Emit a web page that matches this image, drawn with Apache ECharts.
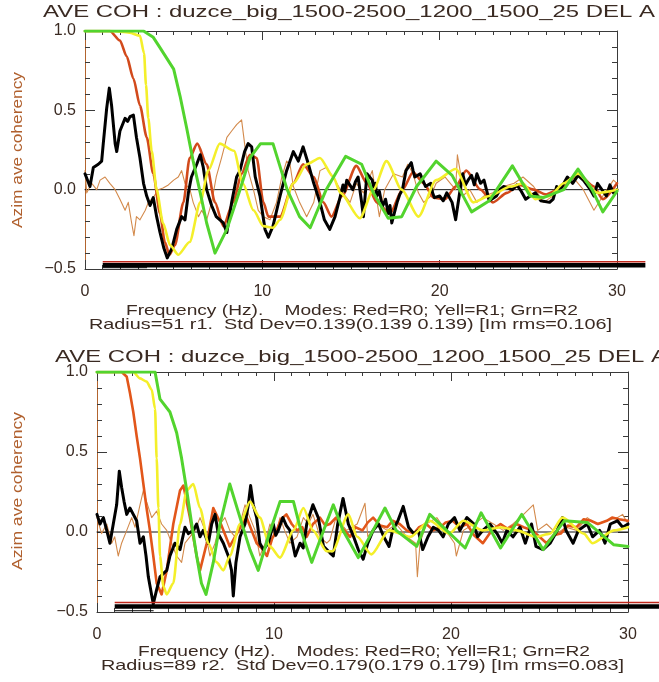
<!DOCTYPE html>
<html>
<head>
<meta charset="utf-8">
<script src="https://cdn.jsdelivr.net/npm/echarts/dist/echarts.min.js"></script>
<style>
html,body{margin:0;padding:0;background:#ffffff;}
#chart{width:659px;height:682px;}
</style>
</head>
<body>
<div id="chart"></div>
<script>
// ---- Panel 1 (Radius=51 r1): [frequency Hz, coherency] ----
const p1Black = [[0,0.1],[0.28,0.02],[0.47,0.14],[0.75,0.16],[0.94,0.18],[1.03,0.29],[1.22,0.51],[1.37,0.64],[1.5,0.53],[1.7,0.29],[1.79,0.24],[1.97,0.37],[2.26,0.45],[2.4,0.43],[2.54,0.46],[2.73,0.47],[2.9,0.33],[3.1,0.2],[3.3,0.04],[3.48,-0.04],[3.67,-0.1],[3.85,-0.05],[4.04,-0.17],[4.23,-0.27],[4.45,-0.37],[4.64,-0.43],[4.9,-0.37],[5.17,-0.25],[5.45,-0.17],[5.64,-0.19],[5.83,-0.02],[6.0,0.08],[6.3,0.16],[6.5,0.22],[6.67,0.14],[6.86,0],[7.14,-0.1],[7.4,-0.17],[7.8,-0.21],[8.0,-0.27],[8.27,-0.08],[8.55,0.08],[8.74,0.12],[9.0,0.24],[9.2,0.29],[9.4,0.27],[9.6,0.08],[9.87,-0.04],[10.15,-0.25],[10.34,-0.3],[10.6,-0.23],[11.0,-0.04],[11.37,0.12],[11.75,0.24],[12.03,0.18],[12.3,0.27],[12.6,0.16],[12.9,0.04],[13.25,-0.08],[13.5,-0.19],[13.8,-0.25],[14.1,-0.17],[14.4,-0.04],[14.55,0.03],[14.65,-0.01],[14.76,0.06],[15.1,0],[15.25,0.05],[15.4,0.08],[15.6,-0.08],[15.7,-0.17],[15.9,0.1],[16.2,0.06],[16.3,0],[16.38,0.04],[16.45,-0.04],[16.6,-0.01],[16.7,-0.07],[16.8,-0.1],[16.95,-0.06],[17.1,-0.15],[17.2,-0.1],[17.3,-0.21],[17.6,-0.08],[17.75,-0.03],[17.9,0],[18.1,0.12],[18.4,0.17],[18.5,0.12],[18.6,0.08],[18.9,0.1],[19.05,0.06],[19.2,0.02],[19.5,0.04],[19.6,-0.02],[19.7,-0.05],[20.0,-0.04],[20.2,-0.07],[20.4,-0.02],[20.7,-0.08],[20.9,-0.19],[21.1,-0.04],[21.3,0.1],[21.45,0.03],[21.6,0.06],[21.8,0.09],[21.95,0.03],[22.1,0.1],[22.3,0.04],[22.5,0.06],[22.8,-0.07],[23.2,-0.04],[23.4,0],[23.6,0.02],[24.1,0],[24.35,0.03],[24.6,-0.01],[24.85,-0.06],[25.1,-0.04],[25.4,-0.02],[25.7,-0.07],[26.2,-0.08],[26.4,-0.06],[26.6,0.02],[26.8,0],[27.2,0.08],[27.5,0.04],[27.8,0.09],[28.1,0.06],[28.5,0],[28.7,-0.04],[28.9,0.04],[29.4,-0.04],[29.6,0.03],[29.8,-0.02],[30,0]];
const p1Tan = [[0,0.12],[0.1,-0.02],[0.38,0.04],[0.66,0],[0.85,0.06],[1.13,0.08],[1.4,0.04],[1.7,0],[1.97,-0.06],[2.26,-0.13],[2.44,-0.08],[2.63,-0.21],[2.76,-0.29],[2.9,-0.17],[3.1,-0.19],[3.4,-0.13],[3.57,-0.08],[3.85,-0.05],[4.13,0],[4.4,0.01],[4.7,0.03],[5.0,0.06],[5.26,0.08],[5.45,0.12],[5.64,0.04],[5.92,0],[6.1,-0.08],[6.4,-0.17],[6.58,-0.13],[6.86,-0.19],[7.14,-0.08],[7.4,0.08],[7.7,0.2],[8.0,0.33],[8.27,0.37],[8.55,0.41],[8.83,0.44],[9.0,0.29],[9.2,0.12],[9.5,0],[9.77,-0.13],[10.06,-0.17],[10.43,-0.19],[10.8,-0.08],[11.1,0.08],[11.37,0.18],[11.56,0.16],[11.75,0.02],[12.1,-0.08],[12.5,-0.17],[12.9,-0.08],[13.25,0.12],[13.6,0.14],[14.0,0.08],[14.4,0],[14.95,-0.08],[15.3,0.04],[15.7,-0.02],[16.2,0.12],[16.6,-0.17],[16.9,0],[17.4,0.1],[17.9,0.08],[18.2,0.16],[18.5,0.1],[18.8,-0.02],[19.1,-0.08],[19.5,-0.04],[19.8,0.04],[20.3,0.08],[20.6,0.04],[20.9,0],[21.0,0.22],[21.15,0.12],[21.3,-0.04],[21.7,0],[22.1,-0.08],[22.5,-0.04],[23.0,-0.02],[23.6,0.02],[24.2,0.04],[24.7,0.08],[25.3,0.02],[25.85,-0.08],[26.4,-0.04],[27,0.04],[27.5,0.08],[28.1,0],[28.7,-0.13],[29.2,-0.04],[29.8,0.06],[30,0.04]];
const p1R0 = [[0,1],[1.4,1],[1.97,0.94],[2.35,0.84],[2.73,0.7],[3.1,0.53],[3.48,0.33],[3.85,0.1],[4.23,-0.15],[4.5,-0.33],[4.76,-0.41],[5.07,-0.35],[5.55,-0.08],[5.9,0.2],[6.33,0.29],[6.86,0.16],[7.33,-0.08],[7.8,-0.23],[8.36,-0.08],[8.83,0.1],[9.3,0.22],[9.68,0.2],[10.06,-0.08],[10.34,-0.17],[11.0,-0.17],[11.75,0.04],[12.3,0.16],[12.9,0.08],[13.44,-0.08],[13.9,-0.17],[14.5,-0.04],[15.3,0.15],[15.9,0.04],[16.45,-0.08],[17.2,-0.15],[17.9,0],[18.5,0.11],[19.1,0.04],[19.65,-0.05],[20.3,-0.06],[20.9,0.02],[21.5,0.12],[22.3,0],[23.0,-0.08],[23.8,-0.02],[24.5,0.03],[25.3,0],[26.0,-0.03],[27,0.02],[27.8,0.1],[28.7,0.02],[29.2,-0.06],[30,0.04]];
const p1R1 = [[0,1],[1.5,1],[2.5,0.99],[3.1,0.97],[3.33,0.86],[3.44,0.66],[3.57,0.45],[3.76,0.245],[4.04,0],[4.4,-0.21],[4.8,-0.35],[5.26,-0.41],[5.9,-0.33],[6.5,-0.08],[6.95,0.12],[7.6,0.29],[8.4,0.245],[8.9,0.04],[9.5,-0.13],[10.06,-0.23],[10.6,-0.24],[11.0,-0.19],[11.75,0.04],[12.5,0.16],[13.25,0.2],[14.0,0.08],[14.4,-0.02],[15.5,-0.18],[16.26,0],[17.0,0.18],[17.86,0],[18.8,-0.17],[19.8,0.06],[20.9,0.13],[21.9,-0.08],[22.8,-0.04],[24.0,0.02],[24.7,0.04],[25.4,-0.06],[26.2,-0.04],[27,0.04],[27.8,0.1],[28.9,-0.02],[30,0]];
const p1R2 = [[0,1],[3.3,1],[3.85,0.96],[4.2,0.9],[5.0,0.76],[5.36,0.59],[5.73,0.39],[6.1,0.18],[6.5,-0.02],[6.86,-0.21],[7.33,-0.4],[8.0,-0.25],[8.74,0],[9.3,0.2],[9.9,0.29],[10.6,0.29],[11.4,0],[12.1,-0.17],[12.7,-0.24],[13.6,0],[14.7,0.21],[15.6,0.16],[16.26,-0.02],[17.1,-0.18],[17.86,-0.17],[18.7,0.02],[19.8,0.18],[20.7,0.09],[21.8,-0.14],[22.8,-0.07],[24.1,0.15],[25.1,-0.04],[25.85,-0.05],[27,0],[27.8,0.13],[28.6,0],[29.2,-0.14],[30,-0.01]];
const p1Band = [[1,-0.477],[31.6,-0.477]];
const p1BandEdge = [[1,-0.455],[31.6,-0.455]];
const p1Bracket = [[1,-0.492],[3.5,-0.492]];

// ---- Panel 2 (Radius=89 r2) ----
const p2Black = [[0,0.11],[0.17,0.05],[0.36,0.09],[0.55,0.01],[0.73,-0.07],[0.92,0.05],[1.11,0.17],[1.26,0.38],[1.39,0.28],[1.53,0.19],[1.68,0.11],[1.86,0.15],[2.05,0.11],[2.24,0.07],[2.43,-0.07],[2.62,-0.03],[2.77,-0.15],[2.9,-0.28],[3.03,-0.36],[3.18,-0.45],[3.37,-0.36],[3.56,-0.28],[3.75,-0.26],[3.94,-0.24],[4.12,-0.15],[4.4,-0.07],[4.69,-0.11],[4.97,0.03],[5.16,-0.01],[5.44,0.01],[5.63,0.05],[5.82,-0.03],[6.0,0.01],[6.29,-0.07],[6.48,0.05],[6.67,0.11],[6.85,-0.01],[7.14,-0.07],[7.42,-0.15],[7.6,-0.24],[7.7,-0.4],[7.85,-0.19],[8.08,-0.03],[8.36,0.05],[8.55,0.17],[8.68,0.29],[8.83,0.17],[9.02,0.09],[9.2,-0.07],[9.4,-0.11],[9.68,-0.07],[9.96,0.05],[10.1,-0.02],[10.24,0.01],[10.5,0.09],[10.7,0.04],[10.9,0.01],[11.2,-0.15],[11.47,-0.07],[11.65,-0.1],[11.85,0.05],[12.2,0.17],[12.5,0.09],[12.8,-0.09],[13.16,-0.13],[13.35,-0.15],[13.6,0.05],[13.9,0.21],[14.2,0.05],[14.5,-0.03],[14.76,-0.11],[15.04,-0.17],[15.3,-0.07],[15.6,0.01],[15.9,0.05],[16.2,-0.03],[16.5,-0.09],[16.7,0.01],[17.0,0.07],[17.3,0.16],[17.6,0.03],[17.9,-0.01],[18.15,0.01],[18.4,-0.11],[18.7,-0.03],[19.0,0.03],[19.3,0.01],[19.56,-0.03],[19.85,0.05],[20.2,0.09],[20.5,0.01],[20.9,0.09],[21.3,0.05],[21.5,-0.03],[21.8,0.01],[22.2,0.05],[22.6,-0.01],[22.9,-0.07],[23.15,0.01],[23.5,-0.03],[23.9,0.03],[24.2,-0.07],[24.55,0.05],[24.8,-0.09],[25.2,-0.11],[25.6,-0.07],[26.0,0.01],[26.3,0.09],[26.5,0.01],[26.9,-0.07],[27.2,0.01],[27.7,0.05],[28.0,-0.03],[28.4,0.01],[28.7,-0.07],[29.0,0.05],[29.4,0.07],[29.7,0.03],[30,0.05]];
const p2Tan = [[0,0.09],[0.26,-0.01],[0.55,0.05],[0.83,-0.07],[1.0,-0.03],[1.2,-0.15],[1.39,-0.07],[1.68,0.01],[1.96,0.09],[2.15,0.03],[2.43,0.17],[2.62,0.26],[2.8,0.19],[3.09,0.09],[3.37,0.13],[3.65,0.05],[3.94,0.01],[4.22,-0.07],[4.5,-0.15],[4.78,-0.19],[4.97,-0.07],[5.25,-0.03],[5.54,0.01],[5.82,0.09],[6.1,0.01],[6.38,-0.15],[6.67,-0.07],[6.95,0.05],[7.23,0.09],[7.5,0.01],[7.8,-0.03],[8.08,0.05],[8.36,0.17],[8.64,0.09],[8.93,0.01],[9.2,-0.15],[9.5,-0.07],[9.77,0.05],[10.06,-0.03],[10.34,0.09],[10.6,0.01],[10.9,-0.07],[11.3,-0.03],[11.66,0.09],[11.94,0.05],[12.2,0.11],[12.6,-0.03],[12.98,-0.07],[13.16,-0.05],[13.5,0.09],[14.1,0.01],[14.7,0.05],[15.14,0.18],[15.3,-0.03],[15.8,0.05],[16.4,0.01],[16.9,0.05],[17.5,-0.03],[18.0,-0.07],[18.1,-0.28],[18.25,-0.07],[18.6,0.05],[19.2,0.09],[19.7,0.01],[20.2,-0.07],[20.3,-0.15],[20.7,0.01],[21.3,0.05],[21.8,0.09],[22.4,0.05],[22.95,0.01],[23.5,0.05],[24.1,0.11],[24.65,0.17],[24.9,0.01],[25.4,0.05],[25.96,-0.01],[26.5,0.03],[27.1,0.01],[27.7,0.09],[28.2,0.05],[28.8,0.07],[29.4,0.09],[29.7,0.11],[30,0.05]];
const p2R0 = [[0,1],[1.4,1],[1.68,0.97],[1.86,0.87],[2.05,0.75],[2.24,0.6],[2.43,0.46],[2.62,0.3],[2.8,0.15],[2.99,0.01],[3.18,-0.15],[3.37,-0.32],[3.65,-0.39],[3.94,-0.24],[4.31,0.05],[4.69,0.26],[4.88,0.29],[5.25,0.09],[5.63,-0.15],[5.82,-0.24],[6.2,-0.07],[6.57,0.15],[7.0,0.05],[7.5,-0.09],[7.9,-0.01],[8.2,0.05],[8.45,0.09],[8.7,0.02],[9.02,-0.07],[9.3,-0.1],[9.6,-0.15],[9.9,-0.04],[10.15,0.01],[10.4,0.08],[10.7,0.11],[11.0,0.05],[11.3,0.01],[11.6,0.03],[11.85,-0.03],[12.2,0.05],[12.6,0.09],[12.9,0.04],[13.16,0.05],[13.5,0.09],[13.9,0.02],[14.3,-0.03],[14.6,0.03],[15.0,0.01],[15.3,0.06],[15.6,0.09],[16.0,0.04],[16.4,0.03],[16.7,0.07],[17.1,0.05],[17.5,0.01],[17.9,-0.01],[18.2,0.03],[18.6,0.05],[19.0,0.01],[19.4,0.03],[19.7,0.06],[20.1,0.07],[20.5,0.03],[20.9,0.05],[21.3,-0.02],[21.8,-0.07],[22.3,0.01],[22.8,0.05],[23.2,0.02],[23.7,0.05],[24.1,0.03],[24.6,0.01],[25.0,-0.03],[25.4,-0.07],[25.8,-0.02],[26.2,-0.01],[26.6,0.04],[27.1,0.03],[27.5,0.08],[27.9,0.07],[28.3,0.05],[28.8,0.07],[29.1,0.09],[29.5,0.08],[30,0.07]];
const p2R1 = [[0,1],[2.05,1],[2.43,0.96],[2.8,0.94],[3.09,0.89],[3.28,0.77],[3.37,0.46],[3.47,0.15],[3.56,-0.15],[3.75,-0.34],[3.94,-0.39],[4.31,-0.32],[4.69,0.05],[5.07,0.26],[5.44,0.3],[5.82,0.15],[6.29,-0.07],[6.76,-0.19],[7.14,-0.24],[7.5,-0.15],[8.08,0.05],[8.64,0.19],[9.2,0.09],[9.77,-0.09],[10.34,-0.16],[11.1,0.01],[11.66,0.15],[12.2,0.01],[12.98,-0.12],[13.3,-0.12],[14.2,0.11],[14.7,-0.03],[15.5,-0.14],[16.5,0.01],[17.7,-0.03],[18.8,0.07],[19.9,-0.01],[20.7,0.07],[21.8,0.01],[22.8,0.03],[23.7,0.01],[24.8,-0.03],[25.6,-0.01],[26.3,0.09],[27.5,-0.01],[28.0,-0.07],[29.2,0.01],[30,0.03]];
const p2R2 = [[0,1],[3.28,1],[3.56,0.83],[4.12,0.75],[4.5,0.62],[4.78,0.46],[5.07,0.26],[5.35,0.05],[5.63,-0.15],[5.9,-0.32],[6.16,-0.39],[6.57,-0.19],[6.95,0.05],[7.5,0.3],[8.08,0.09],[8.64,-0.11],[9.11,-0.24],[9.68,-0.03],[10.34,0.19],[11.1,0.19],[11.47,0.03],[12.13,-0.19],[12.8,0.01],[13.35,0.17],[13.9,0.01],[14.76,-0.16],[15.5,-0.01],[16.27,0.15],[16.9,0.01],[18.06,-0.09],[18.8,0.11],[19.75,0.01],[20.8,-0.1],[21.7,0.12],[22.8,-0.1],[24.0,0.11],[25.2,-0.11],[26.4,0.07],[27.7,0.06],[29.2,-0.08],[30,-0.09]];
const p2Band = [[1,-0.465],[31.8,-0.465]];
const p2BandEdge = [[1,-0.44],[31.8,-0.44]];
const p2Bracket = [[1,-0.492],[3.2,-0.492]];

const zeroLine = [[0,0],[30,0]];

// ---- Axis ticks and texts ----
const xTicks = [0, 10, 20, 30];
const yTicks = [-0.5, 0, 0.5, 1.0];
const titleText = 'AVE COH : duzce_big_1500-2500_1200_1500_25 DEL A';
const yName = 'Azim ave coherency';
const p1Caption = ['Frequency (Hz).    Modes: Red=R0; Yell=R1; Grn=R2',
                   'Radius=51 r1.  Std Dev=0.139(0.139 0.139) [Im rms=0.106]'];
const p2Caption = ['Frequency (Hz).    Modes: Red=R0; Yell=R1; Grn=R2',
                   'Radius=89 r2.  Std Dev=0.179(0.179 0.179) [Im rms=0.083]'];

const FONT = '"Liberation Sans", Arial, sans-serif';
const TEXT_DARK = '#3a2a22';
const AXIS_DARK = '#3a3a3a';
const AXIS_LEFT = '#b2642e';
const LABEL_ORANGE = '#b0602e';

const C_BLACK = '#000000';
const C_TAN = '#d38a4c';
const C_RED = '#d24a1c';
const C_RED2 = '#e2561a';
const C_YELL = '#f4ef2a';
const C_GRN = '#52d42e';

const chart = echarts.init(document.getElementById('chart'), null, {renderer: 'canvas'});

// Canvas measurer used to stretch wide captions over their drawn span
const measureCtx = document.createElement('canvas').getContext('2d');
function fitText(str, a, b, c, size, color, rotate) {
  measureCtx.font = size + 'px ' + FONT;
  const w = measureCtx.measureText(str).width;
  if (rotate) {
    // a = centre x, b..c = vertical span (top..bottom)
    return {
      type: 'text', x: a, y: (b + c) / 2, rotation: Math.PI / 2, scaleX: (c - b) / w, silent: true,
      style: {text: str, fontSize: size, fontFamily: FONT, fill: color, align: 'center', verticalAlign: 'middle'}
    };
  }
  return {
    type: 'text', x: a, y: c, scaleX: (b - a) / w, silent: true,
    style: {text: str, fontSize: size, fontFamily: FONT, fill: color, align: 'left', verticalAlign: 'middle'}
  };
}

const grids = [
  {left: 85, top: 31, width: 532, height: 238},
  {left: 97, top: 372, width: 531, height: 240}
];

const fmtY = v => (v < 0 ? '\u2212' : '') + Math.abs(v).toFixed(1);
const colY = v => (v === 0 || v === 0.5) ? LABEL_ORANGE : TEXT_DARK;

function xAxisPair(gi) {
  const base = {
    type: 'value', gridIndex: gi, min: xTicks[0], max: xTicks[xTicks.length - 1], interval: 10,
    axisLine: {show: true, onZero: false, lineStyle: {color: AXIS_DARK, width: 1}},
    axisTick: {show: true, inside: true, length: 9, lineStyle: {color: AXIS_DARK, width: 1}},
    minorTick: {show: true, splitNumber: 10, length: 4, lineStyle: {color: AXIS_DARK, width: 1}},
    splitLine: {show: false}, minorSplitLine: {show: false}
  };
  return [
    Object.assign({}, base, {position: 'bottom',
      axisLabel: {show: true, margin: 15, fontSize: 16, fontFamily: FONT, color: TEXT_DARK}}),
    Object.assign({}, base, {position: 'top', axisLabel: {show: false}})
  ];
}
function yAxisPair(gi) {
  const base = {
    type: 'value', gridIndex: gi, min: yTicks[0], max: yTicks[yTicks.length - 1], interval: 0.5,
    axisTick: {show: true, inside: true, length: 10, lineStyle: {color: AXIS_DARK, width: 1}},
    minorTick: {show: true, splitNumber: 5, length: 5, lineStyle: {color: AXIS_DARK, width: 1}},
    splitLine: {show: false}, minorSplitLine: {show: false}
  };
  return [
    Object.assign({}, base, {position: 'left',
      axisLine: {show: true, onZero: false, lineStyle: {color: AXIS_LEFT, width: 1}},
      axisLabel: {show: true, margin: 9, fontSize: 16, fontFamily: FONT, color: colY, formatter: fmtY}}),
    Object.assign({}, base, {position: 'right',
      axisLine: {show: true, onZero: false, lineStyle: {color: AXIS_DARK, width: 1}},
      axisLabel: {show: false}})
  ];
}

function line(gi, data, color, width, z, smooth) {
  return {
    type: 'line', xAxisIndex: gi * 2, yAxisIndex: gi * 2, data: data,
    showSymbol: false, symbol: 'none', silent: true, animation: false,
    smooth: smooth || false, smoothMonotone: smooth ? 'x' : undefined, z: z,
    lineStyle: {color: color, width: width, cap: 'round', join: 'round'}
  };
}

const panels = [
  {black: p1Black, tan: p1Tan, r0: p1R0, r0Col: C_RED, r0Smooth: 0.25, r1: p1R1, r2: p1R2,
   band: p1Band, edge: p1BandEdge, bracket: p1Bracket},
  {black: p2Black, tan: p2Tan, r0: p2R0, r0Col: C_RED2, r0Smooth: false, r1: p2R1, r2: p2R2,
   band: p2Band, edge: p2BandEdge, bracket: p2Bracket}
];

const series = [];
panels.forEach((p, gi) => {
  series.push(line(gi, zeroLine, '#111111', 1, 1));
  series.push(line(gi, p.tan, C_TAN, 1.1, 2));
  series.push(line(gi, p.r0, p.r0Col, 2.6, 3, p.r0Smooth));
  series.push(line(gi, p.black, C_BLACK, 3, 4));
  series.push(line(gi, p.r1, C_YELL, 2.6, 5, 0.25));
  series.push(line(gi, p.r2, C_GRN, 3, 6));
});

const xAxes = [].concat(xAxisPair(0), xAxisPair(1));
const yAxes = [].concat(yAxisPair(0), yAxisPair(1));
xAxes.forEach((a, i) => { a.gridIndex = i < 2 ? 0 : 1; });
yAxes.forEach((a, i) => { a.gridIndex = i < 2 ? 0 : 1; });

const texts = [
  fitText(titleText, 43, 655, 12, 17, TEXT_DARK),
  fitText(p1Caption[0], 126, 578, 311, 15, TEXT_DARK),
  fitText(p1Caption[1], 89, 612, 325, 15, TEXT_DARK),
  fitText(titleText, 55, 667, 357, 17, TEXT_DARK),
  fitText(p2Caption[0], 138, 590, 652, 15, TEXT_DARK),
  fitText(p2Caption[1], 101, 624, 666, 15, TEXT_DARK),
  fitText(yName, 18, 72, 228, 15, LABEL_ORANGE, true),
  fitText(yName, 18, 412, 570, 15, LABEL_ORANGE, true)
];

chart.setOption({
  backgroundColor: '#ffffff',
  animation: false,
  grid: grids,
  xAxis: xAxes,
  yAxis: yAxes,
  series: series,
  graphic: texts
});

// Frequency-band bars run past the right frame, so they are placed
// through the axis scales as free graphics rather than clipped series.
function segment(gi, pts, color, width, z) {
  const a = chart.convertToPixel({xAxisIndex: gi * 2, yAxisIndex: gi * 2}, pts[0]);
  const b = chart.convertToPixel({xAxisIndex: gi * 2, yAxisIndex: gi * 2}, pts[1]);
  return {type: 'line', silent: true, z: z,
    shape: {x1: a[0], y1: a[1], x2: Math.min(b[0], 659), y2: b[1]},
    style: {stroke: color, lineWidth: width}};
}
const bands = [];
panels.forEach((p, gi) => {
  bands.push(segment(gi, p.edge, '#c0281c', 1.5, 20));
  bands.push(segment(gi, p.band, '#000000', 4.5, 21));
  bands.push(segment(gi, p.bracket, '#000000', 1, 21));
});
chart.setOption({graphic: texts.concat(bands)});
</script>
</body>
</html>
